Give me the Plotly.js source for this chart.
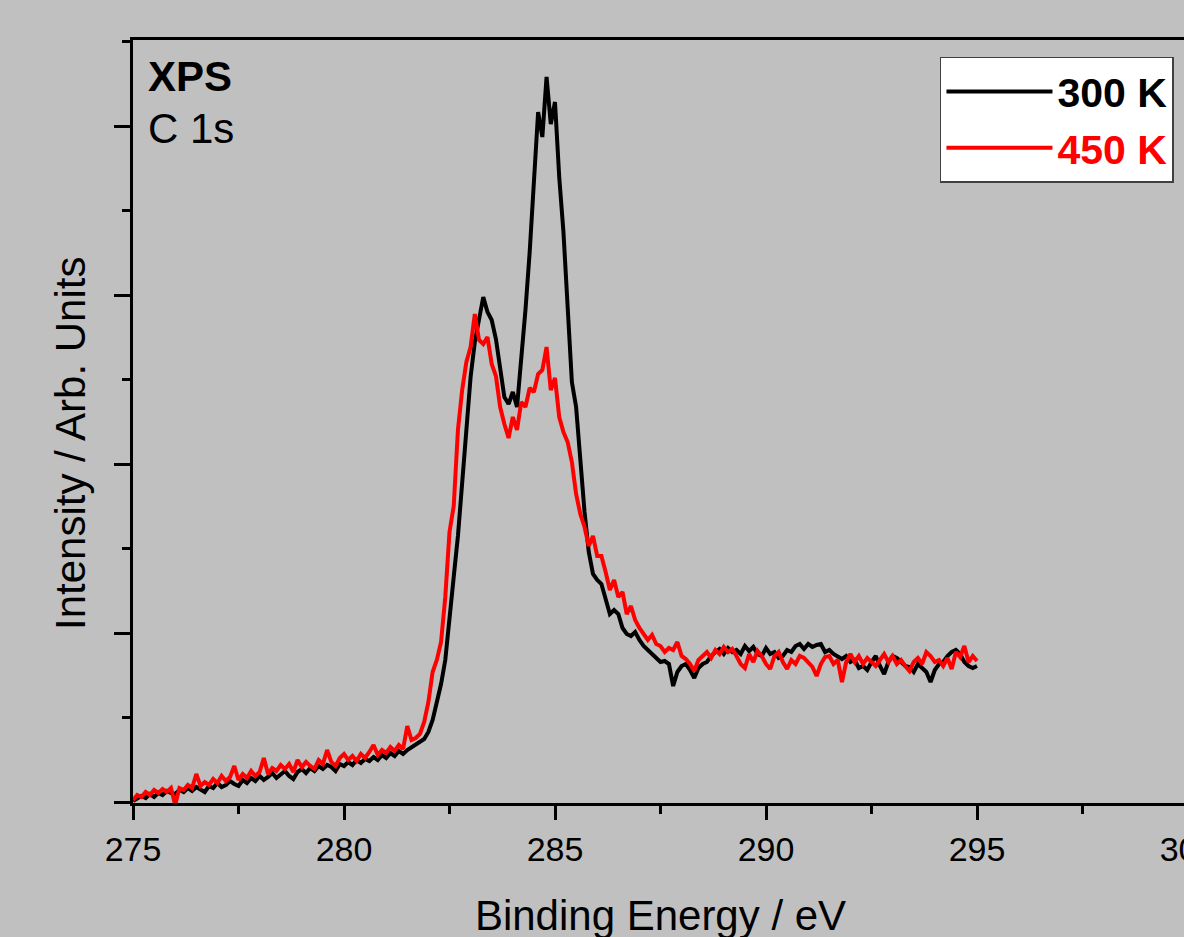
<!DOCTYPE html>
<html><head><meta charset="utf-8">
<script src="https://cdn.plot.ly/plotly-3.0.1.min.js"></script>
<style>html,body{margin:0;padding:0;overflow:hidden;background:#c0c0c0;width:1184px;height:937px}</style>
</head><body><div id="chart" style="width:1200px;height:960px"></div>
<script>
// Binding energy grid (eV)
const energy = [
275.0,275.1,275.2,275.3,275.4,275.5,275.6,275.7,275.8,275.9,
276.0,276.1,276.2,276.3,276.4,276.5,276.6,276.7,276.8,276.9,
277.0,277.1,277.2,277.3,277.4,277.5,277.6,277.7,277.8,277.9,
278.0,278.1,278.2,278.3,278.4,278.5,278.6,278.7,278.8,278.9,
279.0,279.1,279.2,279.3,279.4,279.5,279.6,279.7,279.8,279.9,
280.0,280.1,280.2,280.3,280.4,280.5,280.6,280.7,280.8,280.9,
281.0,281.1,281.2,281.3,281.4,281.5,281.6,281.7,281.8,281.9,
282.0,282.1,282.2,282.3,282.4,282.5,282.6,282.7,282.8,282.9,
283.0,283.1,283.2,283.3,283.4,283.5,283.6,283.7,283.8,283.9,
284.0,284.1,284.2,284.3,284.4,284.5,284.6,284.7,284.8,284.9,
285.0,285.1,285.2,285.3,285.4,285.5,285.6,285.7,285.8,285.9,
286.0,286.1,286.2,286.3,286.4,286.5,286.6,286.7,286.8,286.9,
287.0,287.1,287.2,287.3,287.4,287.5,287.6,287.7,287.8,287.9,
288.0,288.1,288.2,288.3,288.4,288.5,288.6,288.7,288.8,288.9,
289.0,289.1,289.2,289.3,289.4,289.5,289.6,289.7,289.8,289.9,
290.0,290.1,290.2,290.3,290.4,290.5,290.6,290.7,290.8,290.9,
291.0,291.1,291.2,291.3,291.4,291.5,291.6,291.7,291.8,291.9,
292.0,292.1,292.2,292.3,292.4,292.5,292.6,292.7,292.8,292.9,
293.0,293.1,293.2,293.3,293.4,293.5,293.6,293.7,293.8,293.9,
294.0,294.1,294.2,294.3,294.4,294.5,294.6,294.7,294.8,294.9,
295.0];

// Intensity (arb. units) at 300 K
const intensity300K = [
1,3,6,4,8,5,9,7,11,9,
8,12,10,14,11,15,13,10,16,14,
19,15,17,21,18,16,22,19,24,21,
26,22,25,29,24,27,31,26,23,30,
33,29,34,31,36,33,37,35,31,38,
36,40,37,42,39,43,41,45,42,47,
44,49,46,51,48,52,55,58,60,63,
70,82,100,118,142,180,225,266,323,378,
425,460,485,505,490,482,463,432,405,398,
410,395,440,492,550,616,690,665,725,678,
700,625,570,495,420,395,340,290,250,228,
222,218,203,188,192,188,174,168,166,170,
162,156,152,148,144,140,141,138,116,130,
136,138,132,124,134,138,140,146,150,153,
148,154,150,152,148,156,151,155,148,146,
154,148,150,144,146,152,150,156,158,153,
158,155,157,158,150,152,148,145,143,146,
140,142,134,136,132,140,146,136,128,140,
146,144,140,136,135,130,138,134,130,120,
132,138,140,146,150,152,148,140,136,134,
136];

// Intensity (arb. units) at 450 K
const intensity450K = [
2,7,5,10,7,12,9,13,10,14,
-3,14,12,17,14,28,16,20,17,23,
19,26,21,25,36,22,28,24,31,26,
30,44,28,34,31,37,33,38,30,42,
35,40,36,33,42,38,52,40,36,44,
48,42,46,41,48,44,50,57,47,52,
49,55,51,57,53,76,62,64,68,80,
100,130,142,160,205,270,296,372,412,440,
455,488,462,458,465,438,426,395,378,364,
385,372,400,395,414,410,428,432,455,412,
424,385,370,360,340,308,288,275,256,266,
246,246,230,212,222,205,210,188,196,182,
174,168,162,167,158,156,150,154,152,160,
146,143,138,131,142,146,150,144,152,148,
155,150,153,146,138,134,148,140,151,146,
138,133,146,150,140,133,142,138,146,144,
140,135,126,138,145,146,138,142,120,140,
148,140,146,138,144,140,136,142,148,140,
146,138,142,136,131,140,144,138,150,146,
140,142,136,144,133,150,145,156,140,146,
141];

const seriesNames = ['300 K', '450 K'];
const seriesColors = ['#000000', '#ff0000'];

const FONT = 'Liberation Sans, Arial, sans-serif';

const traces = [
  {x: energy, y: intensity300K, type: 'scatter', mode: 'lines',
   name: '<b>' + seriesNames[0] + '</b>',
   line: {color: seriesColors[0], width: 4}},
  {x: energy, y: intensity450K, type: 'scatter', mode: 'lines',
   name: '<b><span style="color:' + seriesColors[1] + '">' + seriesNames[1] + '</span></b>',
   line: {color: seriesColors[1], width: 4}}
];

const layout = {
  width: 1200, height: 960,
  paper_bgcolor: '#c0c0c0', plot_bgcolor: '#c0c0c0',
  margin: {l: 133, r: 12, t: 40, b: 157},
  font: {family: FONT, color: '#000'},
  showlegend: true,
  xaxis: {
    range: [275, 300], tick0: 275, dtick: 5,
    ticks: 'outside', ticklen: 14, tickwidth: 3, tickcolor: '#000',
    showline: true, linewidth: 3, linecolor: '#000', mirror: true,
    showgrid: false, zeroline: false,
    ticklabeloverflow: 'allow',
    tickfont: {family: FONT, size: 34, color: '#000'},
    minor: {dtick: 2.5, ticks: 'outside', ticklen: 8, tickwidth: 3, tickcolor: '#000', showgrid: false},
    title: {text: 'Binding Energy / eV', font: {family: FONT, size: 42, color: '#000'}, standoff: 34}
  },
  yaxis: {
    range: [-1, 762], tick0: 0, dtick: 169,
    ticks: 'outside', ticklen: 16, tickwidth: 3, tickcolor: '#000',
    showticklabels: false,
    showline: true, linewidth: 3, linecolor: '#000', mirror: true,
    showgrid: false, zeroline: false,
    minor: {dtick: 84.5, ticks: 'outside', ticklen: 8, tickwidth: 3, tickcolor: '#000', showgrid: false}
  },
  legend: {
    x: 0.9867, xanchor: 'right', y: 0.978, yanchor: 'top',
    bgcolor: '#ffffff', bordercolor: '#404040', borderwidth: 1.5,
    font: {family: FONT, size: 41, color: '#000'},
    itemwidth: 106
  },
  annotations: [
    {text: 'Intensity / Arb. Units', xref: 'paper', yref: 'paper',
     x: -0.0597, y: 0.4718, xanchor: 'center', yanchor: 'middle',
     textangle: -90, showarrow: false,
     font: {family: FONT, size: 42, color: '#000'}},
    {text: '<b>XPS</b>', xref: 'paper', yref: 'paper', x: 0.012, y: 0.985,
     xanchor: 'left', yanchor: 'top', showarrow: false,
     font: {family: FONT, size: 42, color: '#000'}},
    {text: 'C 1s', xref: 'paper', yref: 'paper', x: 0.012, y: 0.917,
     xanchor: 'left', yanchor: 'top', showarrow: false,
     font: {family: FONT, size: 42, color: '#000'}}
  ]
};

Plotly.newPlot('chart', traces, layout, {displayModeBar: false, staticPlot: true});
</script>
</body></html>
